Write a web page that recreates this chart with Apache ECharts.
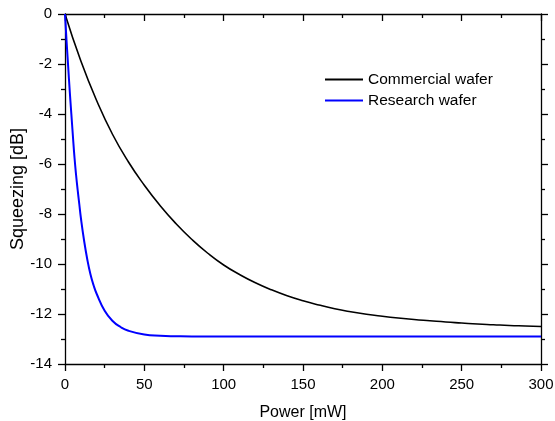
<!DOCTYPE html>
<html>
<head>
<meta charset="utf-8">
<script src="https://cdn.jsdelivr.net/npm/echarts@6/dist/echarts.min.js"></script>
<style>html,body{margin:0;padding:0;background:#fff}#c{width:555px;height:421px}</style>
</head>
<body>
<div id="c"></div>
<script>
var seriesNames = ["Commercial wafer", "Research wafer"];
var powerCommercial = [0,10,20,30,40,50,60,70,80,90,100,110,120,130,140,150,160,170,180,190,200,210,220,230,240,250,260,270,280,290,300];
var squeezCommercial = [0,-1.88,-3.47,-4.82,-5.92,-6.85,-7.67,-8.39,-9.02,-9.57,-10.04,-10.42,-10.75,-11.03,-11.27,-11.47,-11.64,-11.79,-11.91,-12.01,-12.09,-12.16,-12.22,-12.27,-12.32,-12.36,-12.4,-12.43,-12.46,-12.48,-12.5];
var powerResearch = [0,1,2,3,4,5,6,7,8,9,10,12,14,16,18,20,25,30,35,40,50,60,70,80,100,150,200,250,300];
var squeezResearch = [0,-1.1,-2.1,-3.1,-4.0,-4.9,-5.75,-6.45,-7.05,-7.6,-8.15,-9.05,-9.8,-10.4,-10.85,-11.2,-11.87,-12.28,-12.52,-12.67,-12.82,-12.87,-12.89,-12.9,-12.9,-12.9,-12.9,-12.9,-12.9];
var xTitle = "Power [mW]";
var yTitle = "Squeezing [dB]";

function pairs(xs, ys){ return xs.map(function(x,i){ return [x, ys[i]]; }); }

var FONT = "Liberation Sans, Arial, sans-serif";
var axisLine = {show:true, onZero:false, lineStyle:{color:'#000', width:1.3}};
var chart = echarts.init(document.getElementById('c'), null, {renderer:'canvas'});
chart.setOption({
  animation:false,
  backgroundColor:'#fff',
  grid:{left:65, right:14, top:14, bottom:57, containLabel:false, outerBoundsMode:'none'},
  legend:{
    orient:'vertical', left:325, top:69, padding:0, itemGap:0,
    itemWidth:38, itemHeight:2, icon:'rect',
    textStyle:{fontFamily:FONT, fontSize:15.5, color:'#000', lineHeight:21},
    data:seriesNames
  },
  xAxis:[{
    type:'value', min:0, max:300, interval:50, position:'bottom',
    name:xTitle, nameLocation:'middle', nameGap:41, nameMoveOverlap:false,
    nameTextStyle:{fontFamily:FONT, fontSize:16, color:'#000'},
    axisLine:axisLine,
    axisTick:{show:true, length:7, lineStyle:{color:'#000', width:1.3}},
    minorTick:{show:true, splitNumber:2, length:4, lineStyle:{color:'#000', width:1.3}},
    axisLabel:{fontFamily:FONT, fontSize:15, color:'#000', margin:13},
    splitLine:{show:false}
  },{
    type:'value', min:0, max:300, interval:50, position:'top',
    axisLine:axisLine,
    axisTick:{show:true, inside:true, length:7, lineStyle:{color:'#000', width:1.3}},
    minorTick:{show:true, splitNumber:2, length:4, lineStyle:{color:'#000', width:1.3}},
    axisLabel:{show:false}, splitLine:{show:false}
  }],
  yAxis:[{
    type:'value', min:-14, max:0, interval:2, position:'left',
    name:yTitle, nameLocation:'middle', nameGap:38, nameRotate:90, nameMoveOverlap:false,
    nameTextStyle:{fontFamily:FONT, fontSize:18, color:'#000'},
    axisLine:axisLine,
    axisTick:{show:true, length:7, lineStyle:{color:'#000', width:1.3}},
    minorTick:{show:true, splitNumber:2, length:4, lineStyle:{color:'#000', width:1.3}},
    axisLabel:{fontFamily:FONT, fontSize:15, color:'#000', margin:13},
    splitLine:{show:false}
  },{
    type:'value', min:-14, max:0, interval:2, position:'right',
    axisLine:axisLine,
    axisTick:{show:true, length:7, lineStyle:{color:'#000', width:1.3}},
    minorTick:{show:true, splitNumber:2, length:4, lineStyle:{color:'#000', width:1.3}},
    axisLabel:{show:false}, splitLine:{show:false}
  }],
  series:[{
    name:seriesNames[0], type:'line', xAxisIndex:0, yAxisIndex:0,
    data:pairs(powerCommercial, squeezCommercial),
    showSymbol:false, symbol:'none', smooth:0.5,
    lineStyle:{color:'#000', width:1.6}, itemStyle:{color:'#000'}
  },{
    name:seriesNames[1], type:'line', xAxisIndex:0, yAxisIndex:0,
    data:pairs(powerResearch, squeezResearch),
    showSymbol:false, symbol:'none', smooth:0.5,
    lineStyle:{color:'#0000ff', width:2}, itemStyle:{color:'#0000ff'}
  }]
});
</script>
</body>
</html>
